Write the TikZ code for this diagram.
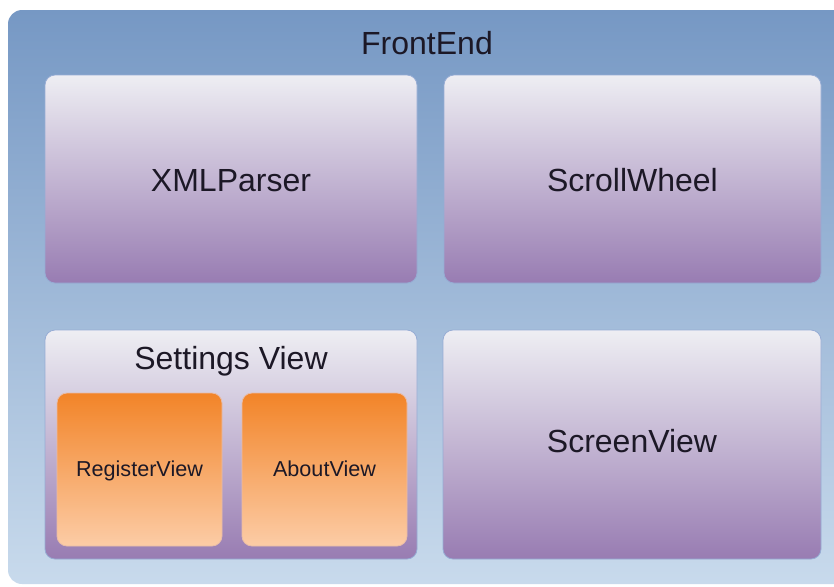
\documentclass[tikz,border=0pt]{standalone}
\usepackage{fontspec}
\setmainfont{Liberation Sans}
\definecolor{feTop}{RGB}{118,152,196}
\definecolor{feBottom}{RGB}{200,218,236}
\definecolor{compTop}{RGB}{238,238,243}
\definecolor{compBottom}{RGB}{152,124,178}
\definecolor{viewTop}{RGB}{242,132,40}
\definecolor{viewBottom}{RGB}{252,204,166}
\definecolor{edgeBlue}{RGB}{150,172,212}
\definecolor{inkDark}{RGB}{28,24,38}
\newcommand{\compw}{186pt}
\newcommand{\comph}{104pt}
\newcommand{\lowh}{114.5pt}
\newcommand{\subw}{82.5pt}
\newcommand{\subh}{76.5pt}
\tikzset{
  frontbox/.style={rectangle, rounded corners=7pt, inner sep=0pt, top color=feTop, bottom color=feBottom, draw=none},
  compbox/.style={rectangle, rounded corners=5pt, inner sep=0pt, top color=compTop, bottom color=compBottom, draw=edgeBlue, line width=0.4pt},
  viewbox/.style={rectangle, rounded corners=5pt, inner sep=0pt, top color=viewTop, bottom color=viewBottom, draw=viewBottom!80!compBottom, line width=0.4pt},
  bigtext/.style={text=inkDark, font=\fontsize{16}{18}\selectfont, text height=0.72em, text depth=0.2em},
  smalltext/.style={text=inkDark, font=\fontsize{10.8}{13}\selectfont, text height=0.72em, text depth=0.2em}
}
\begin{document}
\begin{tikzpicture}[x=0.5pt,y=-0.5pt]
    \useasboundingbox (0,0) rectangle (834,586);
    \clip (0,0) rectangle (834,586);
    % outer frame
    \node[frontbox, minimum width=420pt, minimum height=287pt] (frontend) at (428,297) {};
    \node[bigtext] (frontendlabel) at (427,49) {FrontEnd};
    % top row
    \node[compbox, minimum width=\compw, minimum height=\comph] (xmlparser) at (231,179) {};
    \node[bigtext] at (231,186) {XMLParser};
    \node[compbox, minimum width=188.5pt, minimum height=\comph] (scrollwheel) at (632.5,179) {};
    \node[bigtext] at (632.5,186) {ScrollWheel};
    % bottom row
    \node[compbox, minimum width=\compw, minimum height=\lowh] (settings) at (231,444.5) {};
    \node[bigtext] (settingslabel) at (231,364) {Settings View};
    \node[viewbox, minimum width=\subw, minimum height=\subh] (register) at (139.5,469.5) {};
    \node[smalltext] at (139.5,471) {RegisterView};
    \node[viewbox, minimum width=\subw, minimum height=\subh] (about) at (324.5,469.5) {};
    \node[smalltext] at (324.5,471) {AboutView};
    \node[compbox, minimum width=189pt, minimum height=\lowh] (screenview) at (632,444.5) {};
    \node[bigtext] at (632,447) {ScreenView};
\end{tikzpicture}
\end{document}
